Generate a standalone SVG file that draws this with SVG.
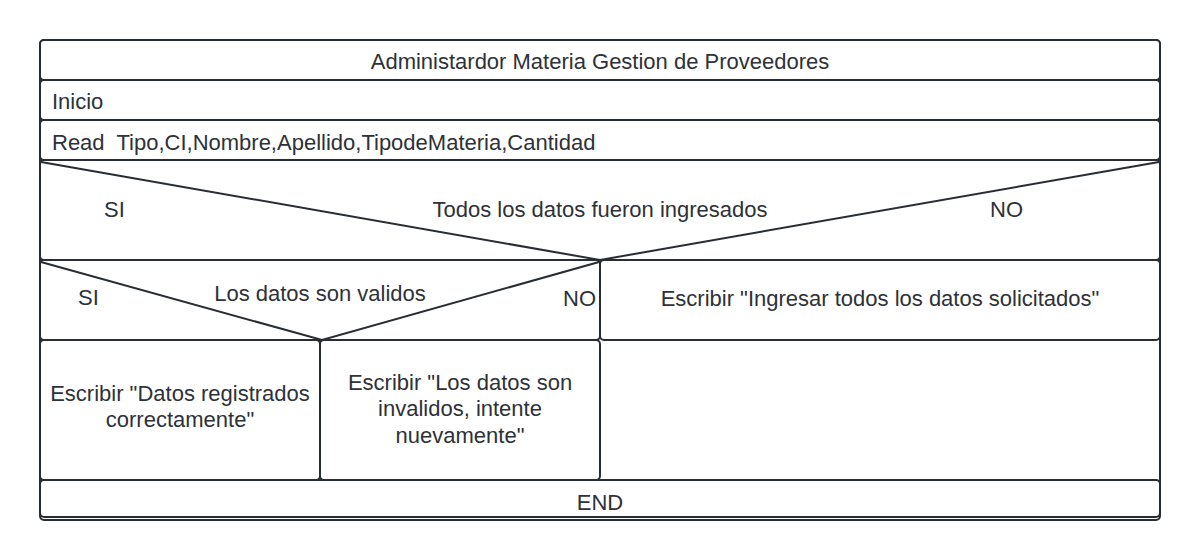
<svg xmlns="http://www.w3.org/2000/svg" width="1200" height="560" viewBox="0 0 1200 560">
<style>
.b{fill:#ffffff;stroke:#282c33;stroke-width:2}
.l{fill:none;stroke:#282c33;stroke-width:2}
text{font-family:"Liberation Sans",Arial,sans-serif;font-size:22px;fill:#2e3138;white-space:pre}
.c{text-anchor:middle}
</style>
<rect width="1200" height="560" fill="#ffffff"/>
<g id="outer"><rect class="b" x="40" y="40" width="1120" height="480" rx="4"/></g>
<g id="title"><rect class="b" x="40" y="40" width="1120" height="40" rx="4"/><text class="c" x="600" y="69">Administardor Materia Gestion de Proveedores</text></g>
<g id="inicio"><rect class="b" x="40" y="80" width="1120" height="40" rx="4"/><text x="52" y="109">Inicio</text></g>
<g id="read"><rect class="b" x="40" y="120" width="1120" height="40" rx="4"/><text x="52" y="150" xml:space="preserve">Read  Tipo,CI,Nombre,Apellido,TipodeMateria,Cantidad</text></g>
<g id="decision1"><rect class="b" x="40" y="160" width="1120" height="100" rx="4"/>
<path class="l" d="M41,162 L600,260 L1159,162"/>
<text x="104" y="217">SI</text>
<text class="c" x="600" y="217">Todos los datos fueron ingresados</text>
<text x="990" y="217">NO</text></g>
<g id="decision2"><rect class="b" x="40" y="260" width="560" height="80" rx="4"/>
<path class="l" d="M41,262 L322,340 L599,262"/>
<text x="78" y="305">SI</text>
<text class="c" x="320" y="301">Los datos son validos</text>
<text x="563" y="306">NO</text></g>
<g id="msgNo"><rect class="b" x="600" y="260" width="560" height="80" rx="4"/><text class="c" x="880" y="306">Escribir "Ingresar todos los datos solicitados"</text></g>
<g id="msgOk"><rect class="b" x="40" y="340" width="280" height="140" rx="4"/><text class="c" x="180" y="401">Escribir "Datos registrados</text><text class="c" x="180" y="427">correctamente"</text></g>
<g id="msgInv"><rect class="b" x="320" y="340" width="280" height="140" rx="4"/><text class="c" x="460" y="390">Escribir "Los datos son</text><text class="c" x="460" y="416">invalidos, intente</text><text class="c" x="460" y="443">nuevamente"</text></g>
<g id="end"><rect class="b" x="40" y="480" width="1120" height="37" rx="4"/><text class="c" x="600" y="510">END</text></g>
<g id="connectors"></g>
</svg>
